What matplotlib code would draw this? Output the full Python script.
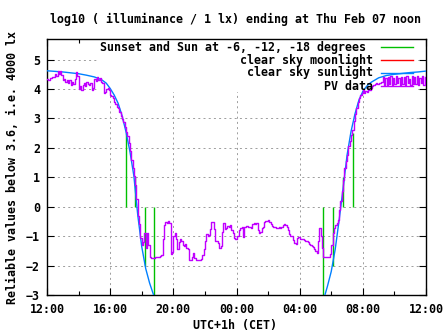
import numpy as np
import matplotlib
matplotlib.use("Agg")
import matplotlib.pyplot as plt
from matplotlib.patches import Rectangle
from matplotlib.lines import Line2D

# ---------------- data ----------------
# PV data, log10(lux), sampled every 5 minutes starting 12:00 (hours since 12:00)
pv_step_h = 5.0 / 60.0
pv_values = [
    4.33, 4.30, 4.38, 4.36, 4.42, 4.40, 4.50, 4.45, 4.62, 4.52, 4.60, 4.48,
    4.30, 4.35, 4.25, 4.30, 4.20, 4.32, 4.12, 4.25, 4.18, 4.35, 4.58, 4.45,
    4.00, 4.10, 3.98, 4.15, 4.22, 4.10, 4.25, 4.18, 4.12, 4.22, 3.97, 4.05,
    4.35, 4.28, 4.42, 4.30, 4.38, 4.25, 4.20, 3.86, 3.90, 4.00, 4.02, 3.95,
    3.80, 3.75, 3.68, 3.55, 3.50, 3.40, 3.35, 3.22, 3.10, 2.98, 2.88, 2.72,
    2.55, 2.40, 2.15, 1.90, 1.60, 1.30, 1.05, 0.75, 0.25, -0.30, -0.60, -1.05,
    -1.30, -1.20, -0.90, -1.40, -0.90, -1.30, -1.72, -1.75, -1.73, -1.73, -1.70, -1.72,
    -1.71, -1.70, -1.68, -1.65, -1.10, -0.62, -0.52, -0.55, -0.50, -0.56, -1.60, -1.55,
    -1.00, -0.88, -1.10, -1.45, -1.20, -1.10, -1.15, -1.30, -1.35, -1.25, -1.40, -1.45,
    -1.82, -1.82, -1.70, -1.58, -1.75, -1.80, -1.82, -1.82, -1.80, -1.78, -1.65, -1.45,
    -1.15, -0.92, -1.00, -0.97, -0.75, -0.52, -0.51, -0.75, -1.15, -1.18, -1.22, -1.40,
    -1.35, -0.85, -0.57, -0.75, -0.72, -0.65, -0.70, -0.62, -0.78, -0.90, -1.05, -1.10,
    -0.98, -1.00, -0.80, -0.74, -0.70, -1.02, -0.68, -0.67, -0.66, -0.70, -0.68, -0.72,
    -0.60, -0.57, -0.58, -0.56, -0.80, -0.88, -0.85, -0.72, -0.70, -0.52, -0.50, -0.48,
    -0.45, -0.52, -0.60, -0.66, -0.68, -0.70, -0.72, -0.72, -0.70, -0.71, -0.68, -0.62,
    -0.60, -0.62, -0.68, -0.78, -0.92, -0.98, -1.00, -1.12, -1.22, -1.28, -1.05, -1.02,
    -1.08, -1.10, -1.08, -1.12, -1.15, -1.15, -1.20, -1.25, -1.30, -1.32, -1.38, -1.45,
    -1.52, -1.58, -1.15, -0.74, -1.00, -1.40, -1.70, -1.72, -1.72, -1.70, -1.70, -1.60,
    -1.30, -0.90, -0.72, -0.62, -0.55, -0.45, -0.10, 0.20, 0.55, 0.90, 1.30, 1.55,
    1.75, 2.05, 2.25, 2.45, 2.60, 2.90, 3.15, 3.35, 3.55, 3.70, 3.78, 3.86,
    3.95, 3.88, 3.93, 3.90, 4.00, 3.95, 4.05, 4.10, 4.12, 4.18, 4.20, 4.18,
    4.22, 4.20, 4.25, 4.40, 4.15, 4.38, 4.14, 4.42, 4.18, 4.45, 4.13, 4.36,
    4.16, 4.44, 4.20, 4.38, 4.15, 4.42, 4.18, 4.40, 4.14, 4.45, 4.20, 4.35,
    4.15, 4.43, 4.18, 4.40, 4.16, 4.45, 4.12, 4.38, 4.20, 4.44, 4.15, 4.40,
    4.22,
]

# clear sky sunlight, afternoon (hours since 12:00) and morning
sun_pm_hours = [0.0, 0.5, 1.0, 1.5, 2.0, 2.5, 3.0, 3.25, 3.5, 3.75, 4.0, 4.25,
                4.5, 4.75, 5.0, 5.25, 5.5, 5.75, 6.0, 6.25, 6.5, 6.75]
sun_pm_values = [4.62, 4.60, 4.58, 4.55, 4.52, 4.47, 4.41, 4.36, 4.30, 4.20, 4.02, 3.80,
                 3.52, 3.10, 2.55, 1.88, 1.05, -0.30, -1.36, -2.10, -2.60, -3.00]
sun_am_hours = [17.6, 17.75, 18.0, 18.25, 18.5, 18.75, 19.0, 19.25, 19.5, 19.75, 20.0,
                20.25, 20.5, 20.75, 21.0, 21.5, 22.0, 22.5, 23.0, 23.5, 24.0]
sun_am_values = [-3.00, -2.72, -2.20, -1.45, -0.45, 0.62, 1.75, 2.55, 3.15, 3.62, 3.92,
                 4.10, 4.22, 4.30, 4.38, 4.46, 4.50, 4.53, 4.56, 4.58, 4.61]

# clear sky moonlight: none in this window
moon_hours = []
moon_values = []

# Sunset / Sun at -6, -12, -18 degrees and the reverse in the morning
event_hours = [4.98, 5.58, 6.19, 6.80, 17.50, 18.13, 18.76, 19.36]
event_tops = [2.5, 1.0, -2.0, -3.0, -3.0, -2.0, 1.0, 2.5]

x_ticks = [0, 4, 8, 12, 16, 20, 24]
x_tick_labels = ["12:00", "16:00", "20:00", "00:00", "04:00", "08:00", "12:00"]
y_ticks = [-3, -2, -1, 0, 1, 2, 3, 4, 5]

legend_labels = ["Sunset and Sun at -6, -12, -18 degrees", "clear sky moonlight",
                 "clear sky sunlight", "PV data"]

title = "log10 ( illuminance / 1 lx) ending at Thu Feb 07 noon"
xlabel = "UTC+1h (CET)"
ylabel = "Reliable values below 3.6, i.e. 4000 lx"

# ---------------- style ----------------
C_GREEN = "#00c000"
C_RED = "#ff0000"
C_BLUE = "#0080ff"
C_PURPLE = "#c000ff"
FONT = dict(family="DejaVu Sans Mono", weight="bold", size=8.4)

W, H = 447, 335
fig = plt.figure(figsize=(W / 100, H / 100), dpi=100)
L, R, T, B = 47, 426, 38.7, 295
ax = fig.add_axes([L / W, 1 - B / H, (R - L) / W, (B - T) / H])

ax.set_xlim(0, 24)
ax.set_ylim(-3, 5.71)

ax.set_axisbelow(True)
ax.grid(True, which="major", color="#a0a0a0", linestyle=(0, (2.0, 3.2)), linewidth=0.72)

# opaque key area (hides grid only)
ax.add_patch(Rectangle((0.1346, 0.792), 0.845, 0.3, transform=ax.transAxes,
                       facecolor="white", edgecolor="none", zorder=1, clip_on=True))

pv_hours = np.arange(len(pv_values)) * pv_step_h
ax.vlines(event_hours, 0, event_tops, color=C_GREEN, linewidth=1.0, zorder=2)
ax.plot(moon_hours, moon_values, color=C_RED, linewidth=1.0, zorder=2)
ax.plot(sun_pm_hours, sun_pm_values, color=C_BLUE, linewidth=1.0, zorder=3)
ax.plot(sun_am_hours, sun_am_values, color=C_BLUE, linewidth=1.0, zorder=3)
ax.plot(pv_hours, pv_values, color=C_PURPLE, linewidth=1.0, drawstyle="steps-post", zorder=4)

ax.set_xticks(x_ticks)
ax.set_xticklabels(x_tick_labels)
ax.set_xticks(np.arange(2, 24, 4), minor=True)
ax.set_yticks(y_ticks)
ax.tick_params(which="both", direction="in", top=True, right=True, width=0.8)
ax.tick_params(which="major", length=5, pad=5)
ax.tick_params(which="minor", length=3)
ax.tick_params(axis="x", which="major", pad=6)
for lab in ax.get_xticklabels() + ax.get_yticklabels():
    lab.set_fontfamily(FONT["family"])
    lab.set_fontweight(FONT["weight"])
    lab.set_fontsize(FONT["size"])
for s in ax.spines.values():
    s.set_linewidth(1.0)

# key (gnuplot style: right-justified text, sample line at right)
def px(x, y):
    return x / W, 1 - y / H

key_rows = [47.3, 60.3, 72.8, 86.3]
key_text_right = [365.5, 372.7, 372.7, 372.7]
key_colors = [C_GREEN, C_RED, C_BLUE, C_PURPLE]
for lab, yy, xr, c in zip(legend_labels, key_rows, key_text_right, key_colors):
    fx, fy = px(xr, yy)
    fig.text(fx, fy, lab, ha="right", va="center", zorder=10, **FONT)
    x0, _ = px(380.7, yy)
    x1, _ = px(412.7, yy)
    fig.add_artist(Line2D([x0, x1], [fy, fy], color=c, linewidth=1.0, zorder=10))

tx, ty = px(235.5, 19)
fig.text(tx, ty, title, ha="center", va="center", **FONT)
lx, ly = px(235, 326)
fig.text(lx, ly, xlabel, ha="center", va="center", **FONT)
yx, yy = px(13, 167)
fig.text(yx, yy, ylabel, ha="center", va="center", rotation=90, **FONT)

fig.savefig("out.png", dpi=100)
